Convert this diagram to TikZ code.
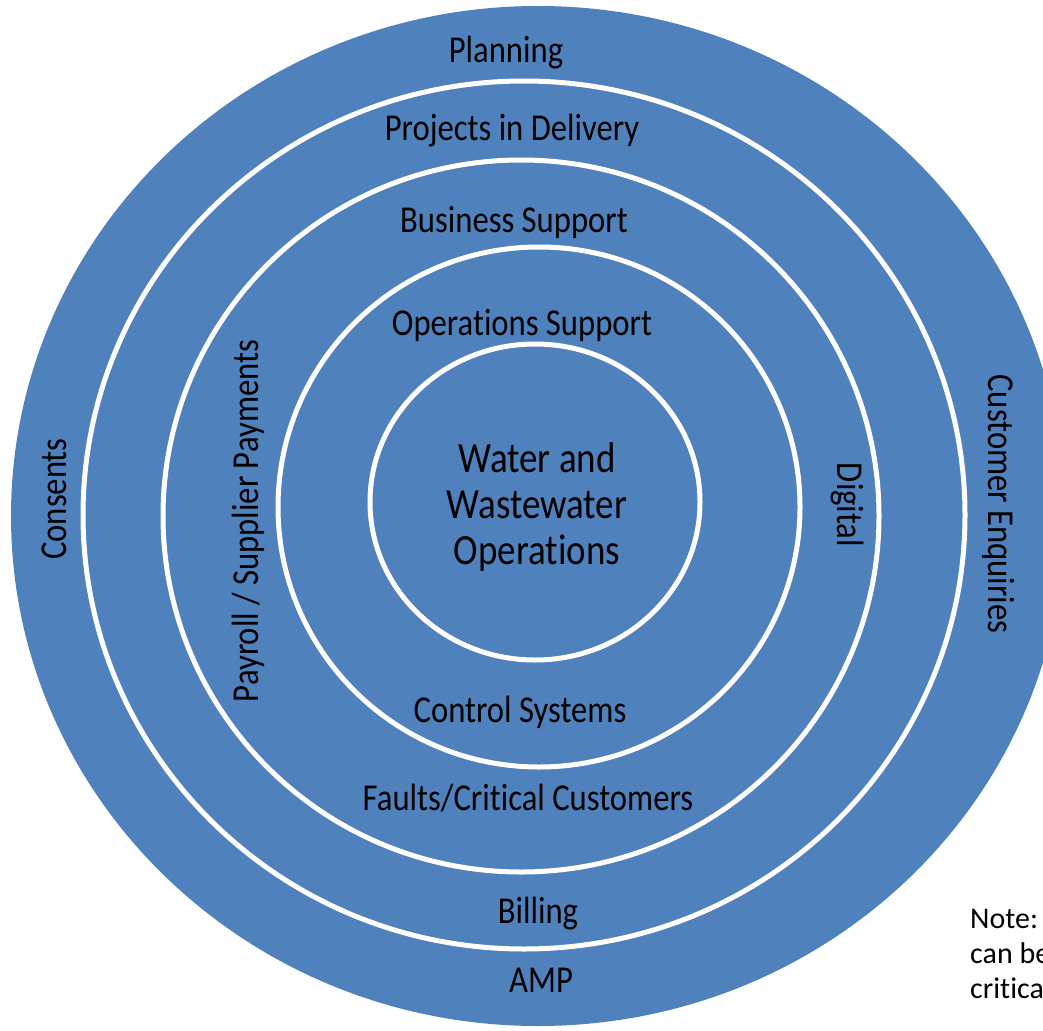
\documentclass[tikz,border=0pt]{standalone}
\usepackage{fontspec}
\setmainfont{Carlito}[Ligatures=NoCommon]
\newfontfamily\ringfont[FakeStretch=0.86, Ligatures=NoCommon]{Carlito}
\definecolor{ringblue}{HTML}{4F81BD}
\tikzset{
  ringline/.style={draw=white, line width=5pt},
  ringlabel/.style={font=\ringfont\fontsize{38}{46}\selectfont, inner sep=0pt, anchor=base},
}
\begin{document}
\begin{tikzpicture}[x=1pt,y=-1pt]
    \useasboundingbox (0,0) rectangle (1043,1030);
    \clip (0,0) rectangle (1043,1030);

    % rings, outside in
    \fill[ringblue] (538,516) ellipse[x radius=527, y radius=510];
    \draw[ringline] (524,515) ellipse[x radius=441, y radius=434];
    \draw[ringline] (521,516) ellipse[x radius=358, y radius=356];
    \draw[ringline] (539,507) ellipse[x radius=261, y radius=260];
    \draw[ringline] (535,502) ellipse[x radius=165, y radius=158];

    % labels
    \node[ringlabel] (planning) at (506,63) {Planning};
    \node[ringlabel] (projects) at (512,140) {Projects in Delivery};
    \node[ringlabel] (business) at (514,232) {Business Support};
    \node[ringlabel] (opsupport) at (522,335) {Operations Support};
    \node[ringlabel, align=center, font=\ringfont\fontsize{43}{46}\selectfont] (core) at (537,564) {Water and\\Wastewater\\Operations};
    \node[ringlabel] (control) at (520,722) {Control Systems};
    \node[ringlabel] (faults) at (528,810) {Faults/Critical Customers};
    \node[ringlabel] (billing) at (538,923) {Billing};
    \node[ringlabel] (amp) at (541,992) {AMP};

    \node[ringlabel, rotate=90] (consents) at (66,499) {Consents};
    \node[ringlabel, rotate=90] (payroll) at (258,521) {Payroll / Supplier Payments};
    \node[ringlabel, rotate=-90] (digital) at (837,505) {Digital};
    \node[ringlabel, rotate=-90] (enquiries) at (988,504) {Customer Enquiries};

    % note, cut off by the page edge
    \node[anchor=base west, align=left, inner sep=0pt, font=\fontsize{30}{35}\selectfont] (note) at (970,998) {Note:\\can be\\critica};
\end{tikzpicture}
\end{document}
